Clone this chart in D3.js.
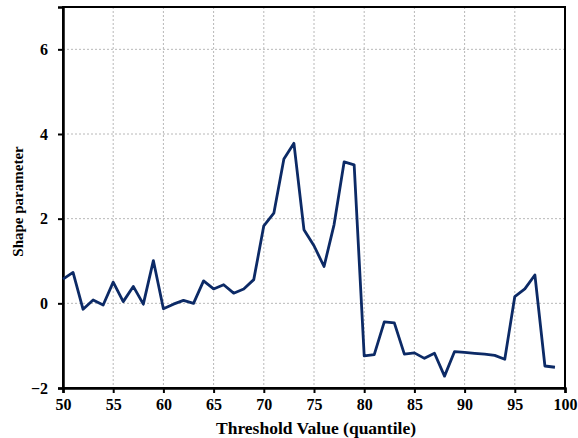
<!DOCTYPE html>
<html>
<head>
<meta charset="utf-8">
<script src="https://cdn.jsdelivr.net/npm/d3@7"></script>
<style>
  body { margin: 0; background: #fff; }
  text { font-family: "Liberation Serif", "Times New Roman", serif; font-weight: bold; }
</style>
</head>
<body>
<div id="chart"></div>
<script>
// Threshold quantiles and fitted shape parameter
var thresholds = [50, 51, 52, 53, 54, 55, 56, 57, 58, 59,
                  60, 61, 62, 63, 64, 65, 66, 67, 68, 69,
                  70, 71, 72, 73, 74, 75, 76, 77, 78, 79,
                  80, 81, 82, 83, 84, 85, 86, 87, 88, 89,
                  90, 91, 92, 93, 94, 95, 96, 97, 98, 99];
var shape = [0.57, 0.73, -0.14, 0.08, -0.04, 0.50, 0.04, 0.40, -0.02, 1.01,
             -0.13, -0.02, 0.07, 0.00, 0.53, 0.34, 0.44, 0.24, 0.34, 0.56,
             1.83, 2.13, 3.41, 3.78, 1.74, 1.36, 0.87, 1.86, 3.34, 3.27,
             -1.24, -1.21, -0.44, -0.46, -1.20, -1.17, -1.30, -1.18, -1.72, -1.14,
             -1.16, -1.18, -1.20, -1.23, -1.32, 0.16, 0.34, 0.67, -1.48, -1.51];
var xTicks = [50, 55, 60, 65, 70, 75, 80, 85, 90, 95, 100];
var yTicks = [-2, 0, 2, 4, 6];

var baseWidth = 578;
var baseHeight = 438;
var margin = {top: 7, right: 13, bottom: 50, left: 63},
    width = baseWidth - margin.left - margin.right,
    height = baseHeight - margin.top - margin.bottom;

var svg = d3.select("#chart")
    .append("svg")
    .attr("width", baseWidth)
    .attr("height", baseHeight)
    .append("g")
    .attr("transform", "translate(" + margin.left + "," + margin.top + ")");

var x = d3.scaleLinear().domain([50, 100]).range([0, width]);
var y = d3.scaleLinear().domain([-2, 7]).range([height, 0]);

// dotted grid
svg.append("g")
    .selectAll("line")
    .data(xTicks.slice(1, -1))
    .enter().append("line")
    .attr("x1", d => x(d)).attr("x2", d => x(d))
    .attr("y1", 0).attr("y2", height)
    .attr("stroke", "#b8b8b8")
    .attr("stroke-dasharray", "2,2");
svg.append("g")
    .selectAll("line")
    .data(yTicks.slice(1))
    .enter().append("line")
    .attr("x1", 0).attr("x2", width)
    .attr("y1", d => y(d)).attr("y2", d => y(d))
    .attr("stroke", "#b8b8b8")
    .attr("stroke-dasharray", "2,2");

// frame
svg.append("rect")
    .attr("width", width)
    .attr("height", height)
    .attr("fill", "none")
    .attr("stroke", "#000")
    .attr("stroke-width", 2);

// axes
var xAxis = svg.append("g")
    .attr("transform", "translate(0," + height + ")")
    .call(d3.axisBottom(x).tickValues(xTicks).tickSize(5).tickPadding(6));
var yAxis = svg.append("g")
    .call(d3.axisLeft(y).tickValues(yTicks).tickSize(5).tickPadding(10));
[xAxis, yAxis].forEach(a => {
    a.select(".domain").attr("stroke-width", 2.5);
    a.selectAll(".tick line").attr("stroke-width", 2);
    a.selectAll("text").style("font-size", "16px").attr("fill", "#000");
});

// series
svg.append("path")
    .datum(thresholds.map((t, i) => [t, shape[i]]))
    .attr("fill", "none")
    .attr("stroke", "#0c2a66")
    .attr("stroke-width", 2.8)
    .attr("stroke-linejoin", "round")
    .attr("d", d3.line().x(d => x(d[0])).y(d => y(d[1])));

// labels
svg.append("text")
    .attr("text-anchor", "middle")
    .attr("x", (x(50) + x(100)) / 2 + 2)
    .attr("y", height + 46)
    .style("font-size", "17.5px")
    .text("Threshold Value (quantile)");

svg.append("text")
    .attr("text-anchor", "middle")
    .attr("transform", "rotate(-90)")
    .attr("x", -(y(-2) + y(7)) / 2 - 4)
    .attr("y", -40)
    .style("font-size", "15px")
    .text("Shape parameter");
</script>
</body>
</html>
